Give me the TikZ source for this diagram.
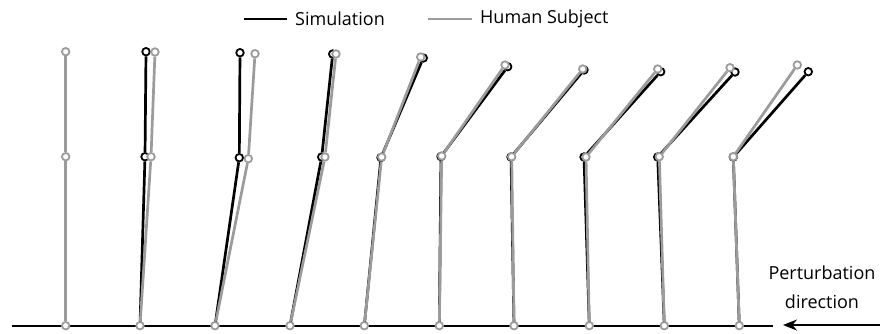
\documentclass[tikz,border=0pt]{standalone}
\usepackage{fontspec}
\setmainfont{Open Sans}
\usetikzlibrary{arrows.meta}
\definecolor{humangray}{RGB}{155,155,155}

\tikzset{
  simjoint/.style={circle, draw=black, fill=white, line width=1.8pt, inner sep=0pt, minimum size=7.5pt},
  humjoint/.style={circle, draw=humangray, fill=white, line width=1.8pt, inner sep=0pt, minimum size=7.5pt},
  simlink/.style={black, line width=2.7pt},
  humlink/.style={humangray, line width=2.7pt},
  label/.style={font=\fontsize{18}{29}\selectfont, inner sep=0pt}
}

\begin{document}
\begin{tikzpicture}[x=1pt, y=-1pt]
  \useasboundingbox (0,0) rectangle (886,333);

  % legend
  \coordinate (sl1) at (244,19);
  \coordinate (sl2) at (287,19);
  \coordinate (hl1) at (428,19);
  \coordinate (hl2) at (472,19);
  \draw[simlink] (sl1) -- (sl2);
  \draw[humlink] (hl1) -- (hl2);
  \node[label, anchor=west] (simtext) at (295,19) {Simulation};
  \node[label, anchor=west] (humtext) at (480,19) {Human Subject};

  % ground
  \foreach \i/\gx in {1/65.7, 2/140, 3/215, 4/290, 5/364.3, 6/439.3, 7/514, 8/589.3, 9/664.3, 10/739.3}
    \coordinate (g\i) at (\gx,325.7);
  \coordinate (gl) at (12,325.7);
  \coordinate (gr) at (773,325.7);
  \draw[line width=2pt] (gl) -- (gr);

  % simulation
  \foreach \i/\hx/\hy/\tx/\ty in {2/145/156.7/146/51.7, 3/239.3/157.7/240/52.7,
      4/321.7/157/332.7/54, 5/381/157.5/423.3/58, 6/441/156.5/507.7/66.7,
      7/511/157/584/70, 8/584/157/660.7/71.7, 9/657.7/157/735/72,
      10/733.3/157/808.3/71.7} {
    \node[simjoint] (sh\i) at (\hx,\hy) {};
    \node[simjoint] (st\i) at (\tx,\ty) {};
    \draw[simlink] (g\i) -- (sh\i) (sh\i) -- (st\i);
  }

  % human subject
  \foreach \i/\hx/\hy/\tx/\ty in {1/65.7/156.7/65.7/51.7, 2/151/156.7/155/52,
      3/248.3/158.7/255/53.7, 4/325/157/336/54, 5/381.7/157/420.7/57,
      6/441.7/156/505/65, 7/511.7/156.7/582.7/69, 8/586/157/657.7/69,
      9/659.3/156.7/730/67.7, 10/733.3/156.7/797.3/65} {
    \node[humjoint] (hg\i) at (g\i) {};
    \node[humjoint] (hh\i) at (\hx,\hy) {};
    \node[humjoint] (ht\i) at (\tx,\ty) {};
    \draw[humlink] (hg\i) -- (hh\i) (hh\i) -- (ht\i);
  }

  % perturbation
  \node[label, align=center] (pert) at (822,287) {Perturbation\\direction};
  \coordinate (a1) at (880,325);
  \coordinate (a2) at (783,325);
  \draw[line width=2pt, -{Stealth[length=14pt, width=11pt]}] (a1) -- (a2);
\end{tikzpicture}
\end{document}
